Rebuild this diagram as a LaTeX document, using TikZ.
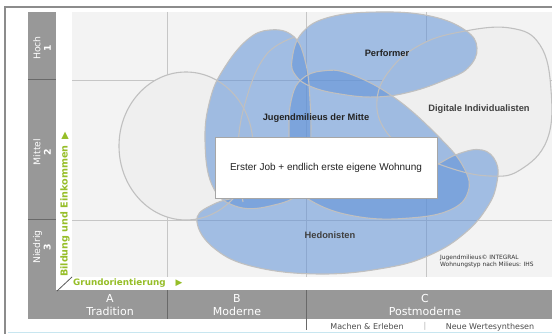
\documentclass[tikz,border=0pt]{standalone}
\usepackage{fontspec}
\setmainfont{Liberation Sans}
\newfontfamily\dvs{DejaVu Sans}
\definecolor{barg}{RGB}{152,152,152}
\definecolor{sepg}{RGB}{105,105,105}
\definecolor{plotbg}{RGB}{243,243,243}
\definecolor{gridg}{RGB}{198,198,198}
\definecolor{outl}{RGB}{192,192,192}
\definecolor{blobg}{RGB}{239,239,239}
\definecolor{bluef}{RGB}{95,145,215}
\definecolor{axgreen}{RGB}{150,190,40}
\definecolor{txtd}{RGB}{35,35,35}
\definecolor{lblue}{RGB}{200,230,240}
\begin{document}
\begin{tikzpicture}[x=1pt,y=-1pt,
  gridline/.style={draw=gridg,line width=0.9pt},
  sepline/.style={draw=sepg,line width=1pt},
  grayblob/.style={fill=blobg},
  blueblob/.style={fill=bluef,fill opacity=0.55},
  outline/.style={draw=outl,line width=1.1pt},
  lab/.style={font=\fontsize{9.3}{11}\selectfont\bfseries,text=txtd,inner sep=0pt},
  axlab/.style={font=\dvs\fontsize{8.8}{10}\selectfont\bfseries,text=axgreen,inner sep=0pt},
  barlab/.style={font=\dvs\fontsize{11}{12.5}\selectfont,text=white,align=center,inner sep=0pt},
  rowlab/.style={font=\dvs\fontsize{9.3}{10.5}\selectfont,text=white,align=center,inner sep=0pt,rotate=90},
  sublab/.style={font=\dvs\fontsize{8}{9}\selectfont,text=black!70,inner sep=0pt},
]
\useasboundingbox (0,0) rectangle (552,334);
\fill[white] (0,0) rectangle (552,334);
% frame
\draw[draw=black!45, line width=1.2pt] (5,334) -- (5,7) -- (552,7);
\draw[draw=lblue, line width=1pt] (8,332) -- (552,332);
% left column and bottom bar
\fill[barg] (28,12) rectangle (56,319);
\fill[barg] (28,290) rectangle (552,319);
\draw[sepline] (28,80) -- (56,80);
\draw[sepline] (28,220) -- (56,220);
\draw[sepline] (167,290) -- (167,319);
\draw[sepline] (306,290) -- (306,330);
% plot area
\fill[plotbg] (72,12) rectangle (552,277);
\draw[gridline] (167,12) -- (167,277);
\draw[gridline] (306,12) -- (306,277);
\draw[gridline] (426,12) -- (426,277);
\draw[gridline] (72,80) -- (552,80);
\draw[gridline] (72,220) -- (552,220);
\draw[black!65, line width=0.8pt] (57,291) -- (72,277);
% gray milieus (fills)
\path[grayblob] (186,146) ellipse [x radius=67pt, y radius=74pt];
\path[grayblob] plot[smooth cycle, tension=0.7] coordinates {(377,100) (390,70) (420,45) (460,32) (510,28) (540,45) (551,90) (547,140) (520,170) (490,176) (450,168) (410,150) (385,130)};
% blue milieus (fills)
\path[blueblob] plot[smooth cycle, tension=0.7] coordinates {(205,140) (210,100) (223,70) (247,40) (270,30) (293,36) (305,60) (310,100) (310,150) (302,190) (270,206) (235,206) (212,185)};
\path[blueblob] plot[smooth cycle, tension=0.7] coordinates {(292,60) (302,33) (330,17) (380,12) (430,16) (465,30) (477,48) (468,68) (445,80) (410,92) (375,97) (340,94) (312,87) (296,76)};
\path[blueblob] plot[smooth cycle, tension=0.7] coordinates {(302,79) (322,71) (350,74) (395,98) (440,138) (464,168) (468,192) (450,210) (410,218) (360,217) (315,203) (293,180) (289,130) (292,97)};
\path[blueblob] plot[smooth cycle, tension=0.7] coordinates {(197,222) (210,206) (245,197) (310,196) (380,190) (430,168) (458,154) (482,150) (496,162) (497,182) (488,206) (465,233) (430,255) (385,268) (320,274) (255,267) (215,249)};
% outlines on top
\path[outline] (186,146) ellipse [x radius=67pt, y radius=74pt];
\path[outline] plot[smooth cycle, tension=0.7] coordinates {(377,100) (390,70) (420,45) (460,32) (510,28) (540,45) (551,90) (547,140) (520,170) (490,176) (450,168) (410,150) (385,130)};
\path[outline] plot[smooth cycle, tension=0.7] coordinates {(205,140) (210,100) (223,70) (247,40) (270,30) (293,36) (305,60) (310,100) (310,150) (302,190) (270,206) (235,206) (212,185)};
\path[outline] plot[smooth cycle, tension=0.7] coordinates {(292,60) (302,33) (330,17) (380,12) (430,16) (465,30) (477,48) (468,68) (445,80) (410,92) (375,97) (340,94) (312,87) (296,76)};
\path[outline] plot[smooth cycle, tension=0.7] coordinates {(302,79) (322,71) (350,74) (395,98) (440,138) (464,168) (468,192) (450,210) (410,218) (360,217) (315,203) (293,180) (289,130) (292,97)};
\path[outline] plot[smooth cycle, tension=0.7] coordinates {(197,222) (210,206) (245,197) (310,196) (380,190) (430,168) (458,154) (482,150) (496,162) (497,182) (488,206) (465,233) (430,255) (385,268) (320,274) (255,267) (215,249)};
\path[outline] plot[smooth, tension=0.7] coordinates {(243,202) (238,150) (246,100) (266,55) (295,37)};
% box
\node[draw=black!35, fill=white, line width=0.8pt, minimum width=222pt, minimum height=61pt, inner sep=0pt, font=\fontsize{10}{12}\selectfont, text=txtd] (box) at (326,167.5) {Erster Job + endlich erste eigene Wohnung};
% labels
\node[lab] (perf) at (387,53) {Performer};
\node[lab] (jug) at (316,118) {Jugendmilieus der Mitte};
\node[lab, text=black!75] (dig) at (479,109) {Digitale Individualisten};
\node[lab, text=black!75] (hed) at (330,235) {Hedonisten};
\node[font=\dvs\fontsize{5.9}{7}\selectfont, align=left, anchor=west, inner sep=0pt, text=black!80] (cred) at (440,261.5) {Jugendmilieus© INTEGRAL\\Wohnungstyp nach Milieus: IHS};
% axes
\node[axlab, anchor=west] (grund) at (73,283) {Grundorientierung\hspace{10pt}{\fontseries{m}\selectfont ▶}};
\node[axlab, rotate=90, anchor=west, font=\dvs\fontsize{9.6}{10}\selectfont\bfseries] (bild) at (65,277) {Bildung und Einkommen\hspace{6pt}{\fontseries{m}\selectfont ▶}};
\node[rowlab] (hoch) at (42,48) {Hoch\\\textbf{1}};
\node[rowlab] (mittel) at (42,152) {Mittel\\\textbf{2}};
\node[rowlab] (niedrig) at (42,247) {Niedrig\\\textbf{3}};
\node[barlab] (a) at (110,305) {A\\Tradition};
\node[barlab] (b) at (237,305) {B\\Moderne};
\node[barlab] (c) at (425,305) {C\\Postmoderne};
\node[sublab] (machen) at (367,327) {Machen \& Erleben};
\node[sublab, text=black!30] (bar) at (425,326.5) {|};
\node[sublab] (neue) at (490,327) {Neue Wertesynthesen};
\end{tikzpicture}
\end{document}
